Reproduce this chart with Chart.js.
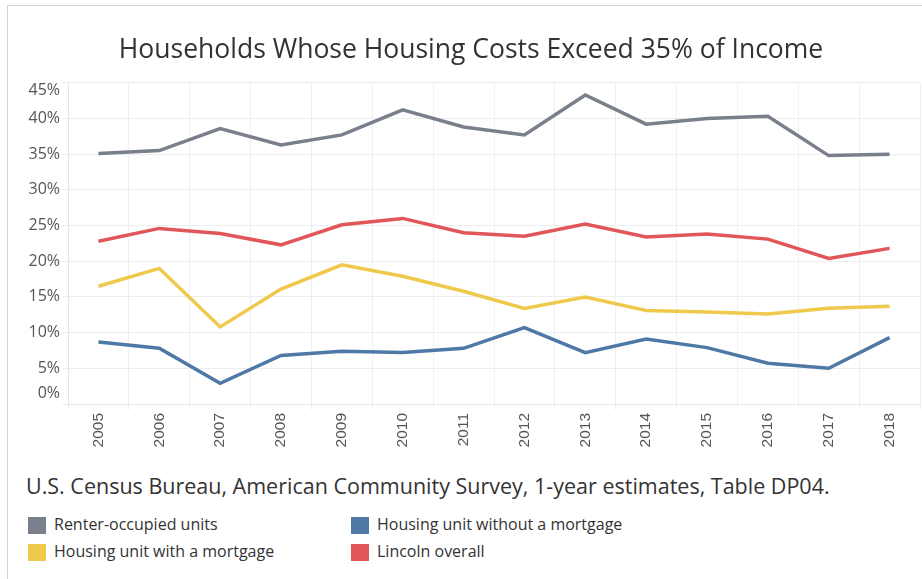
<!DOCTYPE html>
<html>
<head>
<meta charset="utf-8">
<script src="https://cdn.jsdelivr.net/npm/chart.js@4/dist/chart.umd.min.js"></script>
<style>
  body { margin: 0; background: #fff; font-family: "Open Sans", sans-serif; }
  #card { position: absolute; left: 7px; top: 5px; width: 940px; height: 600px;
          border-top: 1px solid #d4d4d4; border-left: 1px solid #d4d4d4; }
  #wrap { position: absolute; left: 0; top: 0; width: 922px; height: 460px; }
  #source { position: absolute; left: 26px; top: 471px; font-size: 21.5px; color: #333; white-space: nowrap; }
  .leg { position: absolute; font-size: 16px; color: #333; white-space: nowrap; }
  .leg span { display: inline-block; width: 18px; height: 17px; vertical-align: middle; margin-right: 8px; }
</style>
</head>
<body>
<div id="card"></div>
<div id="wrap"><canvas id="line-chart"></canvas></div>
<div id="source">U.S. Census Bureau, American Community Survey, 1-year estimates, Table DP04.</div>
<div id="legend"></div>
<script>
const years = ["2005", "2006", "2007", "2008", "2009", "2010", "2011", "2012", "2013", "2014", "2015", "2016", "2017", "2018"];

const renter = [35.1, 35.5, 38.6, 36.3, 37.7, 41.2, 38.8, 37.7, 43.3, 39.2, 40.0, 40.3, 34.8, 35.0];
const lincoln = [22.8, 24.6, 23.9, 22.3, 25.1, 26.0, 24.0, 23.5, 25.2, 23.4, 23.8, 23.1, 20.4, 21.8];
const with_mortgage = [16.5, 19.0, 10.8, 16.1, 19.5, 17.9, 15.8, 13.4, 15.0, 13.1, 12.9, 12.6, 13.4, 13.7];
const without_mortgage = [8.7, 7.8, 2.9, 6.8, 7.4, 7.2, 7.8, 10.7, 7.2, 9.1, 7.9, 5.7, 5.0, 9.3];

const y_ticks = [0, 5, 10, 15, 20, 25, 30, 35, 40, 45];

const series = [
  { label: "Renter-occupied units", color: "#79808c", data: renter },
  { label: "Housing unit without a mortgage", color: "#4e79a7", data: without_mortgage },
  { label: "Housing unit with a mortgage", color: "#efc94c", data: with_mortgage },
  { label: "Lincoln overall", color: "#e15759", data: lincoln },
];

const line_data = {
  labels: years,
  datasets: series.map((s) => ({
    label: s.label,
    borderColor: s.color,
    backgroundColor: s.color,
    borderWidth: 3.5,
    pointRadius: 0,
    tension: 0,
    data: s.data,
  })),
};

// tableau nudges the end labels inside the axis; do the same
const nudgeEndLabels = {
  id: "nudgeEndLabels",
  afterDraw(chart) {
    const y = chart.scales.y;
    const c = chart.ctx;
    c.save();
    c.font = "16px 'Open Sans'";
    c.fillStyle = "#555";
    c.textAlign = "right";
    c.textBaseline = "middle";
    y.ticks.forEach((t) => {
      let py = y.getPixelForValue(t.value);
      if (t.value === y.max) py += 8;
      if (t.value === y.min) py -= 11;
      c.fillText(t.value + "%", y.right - 8, py);
    });
    c.restore();
  },
};

const line_config = {
  type: "line",
  data: line_data,
  plugins: [nudgeEndLabels],
  options: {
    responsive: true,
    maintainAspectRatio: false,
    animation: false,
    layout: { padding: { left: 22, right: 2, top: 0, bottom: 0 } },
    plugins: {
      legend: { display: false },
      tooltip: { enabled: false },
      title: {
        display: true,
        text: "Households Whose Housing Costs Exceed 35% of Income",
        color: "#333",
        font: { family: "Open Sans", size: 26.5, weight: "normal" },
        padding: { top: 35, bottom: 16 },
      },
    },
    scales: {
      x: {
        offset: true,
        grid: { offset: true, color: "#f0f0f0", tickLength: 6 },
        border: { color: "#e6e6e6" },
        ticks: {
          minRotation: 90,
          maxRotation: 90,
          padding: 3,
          color: "#555",
          font: { family: "Liberation Sans", size: 15.5 },
        },
        afterFit: (scale) => { scale.height = 56; },
      },
      y: {
        min: 0,
        max: 45,
        afterBuildTicks: (scale) => { scale.ticks = y_ticks.map((v) => ({ value: v })); },
        grid: { color: "#ededed", tickLength: 6 },
        border: { color: "#e6e6e6" },
        ticks: { display: false },
        afterFit: (scale) => { scale.width = 46; },
      },
    },
  },
};

const ctx = document.getElementById("line-chart").getContext("2d");
const lineChart = new Chart(ctx, line_config);

// legend, two columns like the original
const legendPos = [[28, 513], [351, 513], [28, 540], [351, 540]];
const legend = document.getElementById("legend");
series.forEach((s, i) => {
  const d = document.createElement("div");
  d.className = "leg";
  d.style.left = legendPos[i][0] + "px";
  d.style.top = legendPos[i][1] + "px";
  d.innerHTML = '<span style="background:' + s.color + '"></span>' + s.label;
  legend.appendChild(d);
});
</script>
</body>
</html>
